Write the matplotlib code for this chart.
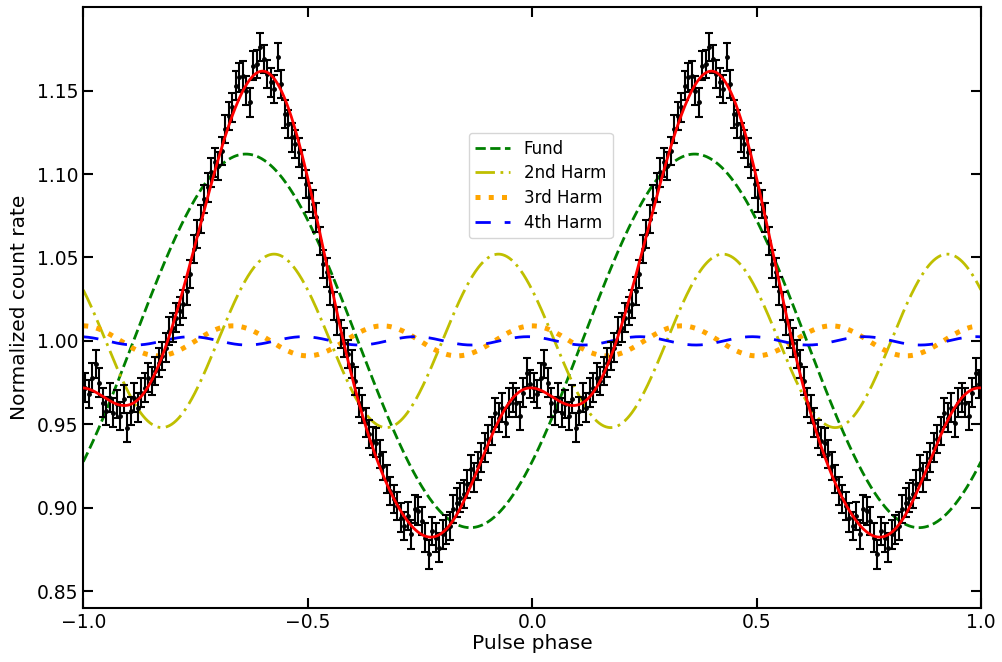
import matplotlib
matplotlib.use("Agg")
import matplotlib.pyplot as plt
import numpy as np

# Fourier components as drawn: amplitude and phase of the first peak
HARM_NAMES = ["Fund", "2nd Harm", "3rd Harm", "4th Harm"]
HARM_AMP = [0.112, 0.052, 0.009, 0.0025]
HARM_PEAK = [0.362, 0.425, 0.0, -0.01]

# points read along the red fitted profile (phase within one cycle)
FIT_PHASE = [0.0, 0.05, 0.098, 0.147, 0.17, 0.192, 0.22, 0.243, 0.27, 0.296,
             0.326, 0.36, 0.399, 0.42, 0.448, 0.50, 0.5835, 0.6247, 0.6425, 0.667,
             0.705, 0.743, 0.767, 0.80, 0.832, 0.86, 0.904, 0.949, 0.975]
FIT_RATE = [0.971, 0.966, 0.963, 0.972, 0.985, 1.0045, 1.030, 1.052, 1.078, 1.102,
            1.132, 1.152, 1.162, 1.160, 1.145, 1.096, 1.000, 0.950, 0.935, 0.921,
            0.9006, 0.887, 0.882, 0.885, 0.8946, 0.910, 0.942, 0.963, 0.969]

# folded light curve, 128 phase bins, one cycle (plotted twice)
N_BINS = 128
RATE = [
    0.972, 0.968, 0.978, 0.986, 0.975, 0.963, 0.958, 0.966,
    0.957, 0.962, 0.955, 0.965, 0.948, 0.958, 0.966, 0.960,
    0.969, 0.972, 0.978, 0.976, 0.982, 0.987, 0.991, 0.996,
    1.006, 1.008, 1.014, 1.018, 1.022, 1.030, 1.040, 1.055,
    1.064, 1.073, 1.085, 1.092, 1.101, 1.107, 1.105, 1.114,
    1.127, 1.135, 1.140, 1.153, 1.158, 1.159, 1.150, 1.143,
    1.165, 1.166, 1.176, 1.169, 1.160, 1.155, 1.151, 1.170,
    1.154, 1.136, 1.130, 1.122, 1.118, 1.113, 1.106, 1.094,
    1.086, 1.082, 1.074, 1.060, 1.046, 1.041, 1.030, 1.021,
    1.012, 1.004, 0.999, 0.992, 0.986, 0.976, 0.963, 0.959,
    0.951, 0.944, 0.940, 0.939, 0.932, 0.925, 0.917, 0.910,
    0.905, 0.901, 0.894, 0.889, 0.895, 0.884, 0.899, 0.898,
    0.892, 0.882, 0.872, 0.886, 0.882, 0.876, 0.884, 0.887,
    0.889, 0.899, 0.903, 0.906, 0.908, 0.914, 0.923, 0.918,
    0.925, 0.930, 0.936, 0.941, 0.946, 0.957, 0.954, 0.960,
    0.951, 0.963, 0.966, 0.963, 0.955, 0.969, 0.981, 0.974,
]
ERR = 0.0085


def harmonic(phi, k):
    n = k + 1
    return HARM_AMP[k] * np.cos(2 * np.pi * n * (phi - HARM_PEAK[k]))


def fourier_design(phi, nharm=4):
    cols = [np.ones_like(phi)]
    for n in range(1, nharm + 1):
        cols.append(np.cos(2 * np.pi * n * phi))
        cols.append(np.sin(2 * np.pi * n * phi))
    return np.column_stack(cols)


def main():
    fig = plt.figure(figsize=(10.03, 6.62), dpi=100)
    ax = fig.add_axes([0.083, 0.082, 0.895, 0.907])

    centers = (np.arange(N_BINS) + 0.5) / N_BINS - 1.0
    rate = np.array(RATE)
    x_data = np.concatenate([centers, centers + 1])
    y_data = np.concatenate([rate, rate])
    ax.errorbar(x_data, y_data, yerr=ERR, fmt="o", color="black", ms=2.5,
                elinewidth=1.5, capsize=3, capthick=1.5, zorder=3)

    phi = np.linspace(-1, 1, 1200)
    styles = [
        dict(color="green", ls="--", lw=2),
        dict(color="y", ls=(0, (7, 2, 1, 2)), lw=2),
        dict(color="orange", ls=":", lw=3.6),
        dict(color="b", ls=(0, (5.5, 5)), lw=2),
    ]
    for k, name in enumerate(HARM_NAMES):
        ax.plot(phi, 1 + harmonic(phi, k), label=name, zorder=2, **styles[k])

    # 4-harmonic fit through the points read on the red curve
    coef, *_ = np.linalg.lstsq(fourier_design(np.array(FIT_PHASE)), np.array(FIT_RATE), rcond=None)
    ax.plot(phi, fourier_design(phi) @ coef, color="red", lw=2, zorder=4)

    ax.set_xlim(-1, 1)
    ax.set_ylim(0.84, 1.20)
    ax.set_xticks([-1.0, -0.5, 0.0, 0.5, 1.0])
    ax.set_yticks([0.85, 0.90, 0.95, 1.00, 1.05, 1.10, 1.15])
    ax.tick_params(direction="in", top=True, right=True, length=7, width=1.5, labelsize=13.5)
    for s in ax.spines.values():
        s.set_linewidth(1.5)
    ax.set_xlabel("Pulse phase", fontsize=14.5, labelpad=2)
    ax.set_ylabel("Normalized count rate", fontsize=14.5, labelpad=6)
    ax.legend(loc="center", bbox_to_anchor=(0.5095, 0.703), fontsize=12,
              handlelength=2.1, labelspacing=0.4)

    fig.savefig("out.png", dpi=100)


if __name__ == "__main__":
    main()
